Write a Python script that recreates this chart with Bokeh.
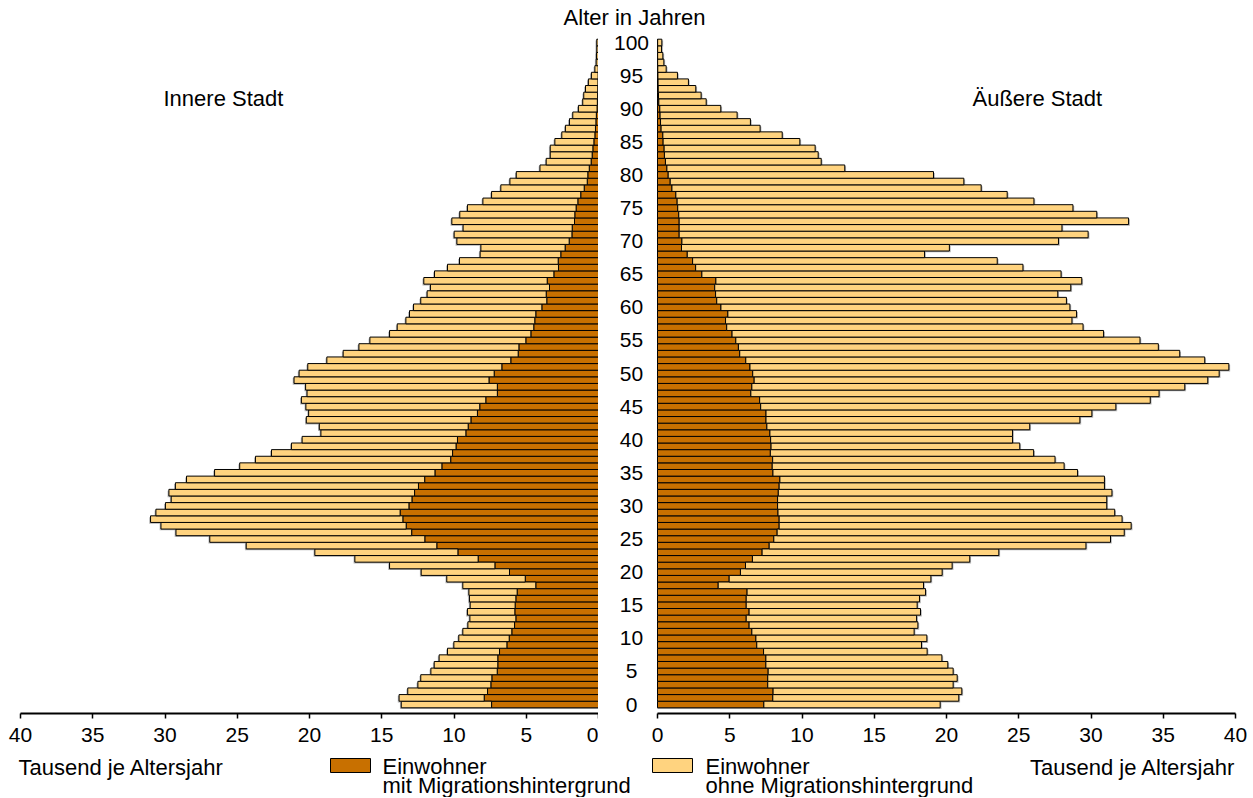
from bokeh.plotting import figure
from bokeh.layouts import column, row
from bokeh.models import Range1d, FixedTicker, ColumnDataSource
from bokeh.core.properties import value
from bokeh.embed import file_html
from bokeh.resources import INLINE

# ---------------- data (thousand persons per year of age) ----------------
ages = list(range(101))

inner_mit = [7.40, 7.91, 7.68, 7.45, 7.38, 7.01, 6.97, 6.97, 6.85, 6.34,
             6.18, 6.00, 5.81, 5.72, 5.79, 5.77, 5.72, 5.63, 4.34, 5.07,
             6.16, 7.17, 8.33, 9.73, 11.19, 12.02, 12.93, 13.31, 13.54, 13.73,
             13.12, 12.91, 12.73, 12.46, 12.03, 11.32, 10.84, 10.23, 10.10, 9.86,
             9.76, 9.18, 9.02, 8.83, 8.38, 8.22, 7.80, 7.00, 7.00, 7.58,
             7.22, 6.69, 6.07, 5.56, 5.51, 5.03, 4.68, 4.48, 4.41, 4.34,
             3.92, 3.58, 3.62, 3.39, 3.55, 3.09, 2.77, 2.79, 2.61, 2.31,
             2.03, 1.84, 1.82, 1.66, 1.64, 1.55, 1.43, 1.23, 0.99, 0.78,
             0.74, 0.64, 0.51, 0.44, 0.39, 0.32, 0.25, 0.21, 0.18, 0.15,
             0.10, 0.08, 0.06, 0.05, 0.04, 0.03, 0.02, 0.01, 0.01, 0.01,
             0.01]
inner_ohne = [6.25, 5.89, 5.52, 5.05, 4.92, 4.59, 4.40, 4.06, 3.60, 3.67,
              3.49, 3.39, 3.23, 3.18, 3.28, 3.11, 3.21, 3.34, 5.05, 5.43,
              6.11, 7.29, 8.53, 9.90, 13.19, 14.88, 16.31, 16.97, 17.46, 16.90,
              16.85, 16.66, 17.00, 16.82, 16.48, 15.25, 13.99, 13.51, 12.53, 11.39,
              10.75, 10.03, 10.30, 11.39, 11.68, 12.03, 12.76, 13.17, 13.27, 13.49,
              13.50, 13.43, 12.73, 12.11, 11.07, 10.79, 9.78, 9.45, 8.92, 8.74,
              8.88, 8.72, 8.24, 8.24, 8.54, 8.26, 7.68, 6.83, 5.58, 5.83,
              7.77, 8.15, 7.55, 8.49, 7.96, 7.52, 6.57, 6.17, 5.77, 5.35,
              4.95, 3.41, 3.11, 2.90, 2.95, 2.70, 2.29, 2.08, 1.83, 1.63,
              1.29, 1.01, 0.96, 0.85, 0.66, 0.46, 0.23, 0.15, 0.13, 0.11,
              0.11]
outer_mit = [7.36, 7.98, 8.00, 7.63, 7.63, 7.66, 7.50, 7.50, 7.34, 6.87,
             6.81, 6.53, 6.34, 6.14, 6.34, 6.14, 6.14, 6.20, 4.20, 4.96,
             5.74, 6.09, 6.57, 7.24, 7.73, 8.05, 8.28, 8.42, 8.42, 8.34,
             8.31, 8.31, 8.36, 8.42, 8.47, 7.99, 7.94, 7.97, 7.81, 7.86,
             7.83, 7.78, 7.57, 7.51, 7.51, 7.14, 7.07, 6.46, 6.53, 6.69,
             6.59, 6.40, 6.11, 5.69, 5.60, 5.42, 5.16, 4.79, 4.71, 4.87,
             4.39, 4.10, 4.02, 3.96, 4.04, 3.07, 2.64, 2.43, 2.06, 1.66,
             1.69, 1.50, 1.50, 1.50, 1.47, 1.40, 1.36, 1.27, 1.00, 0.88,
             0.74, 0.65, 0.55, 0.48, 0.46, 0.39, 0.37, 0.25, 0.21, 0.18,
             0.16, 0.09, 0.07, 0.05, 0.04, 0.03, 0.02, 0.01, 0.01, 0.01,
             0.01]
outer_ohne = [12.20, 12.87, 13.06, 12.83, 13.11, 12.80, 12.59, 12.18, 11.32, 11.40,
              11.83, 11.23, 11.68, 11.79, 11.86, 11.83, 11.99, 12.35, 14.21, 13.96,
              13.96, 14.30, 15.04, 16.38, 21.92, 23.30, 24.02, 24.36, 23.73, 23.30,
              22.78, 22.78, 23.09, 22.51, 22.46, 21.08, 20.20, 19.54, 18.22, 17.21,
              16.74, 16.79, 18.19, 21.72, 22.55, 24.58, 27.03, 28.25, 29.96, 31.39,
              32.28, 33.14, 31.76, 30.45, 29.06, 27.97, 25.71, 24.66, 23.97, 24.13,
              24.15, 24.20, 23.68, 24.64, 25.32, 24.86, 22.65, 21.08, 16.42, 18.54,
              26.06, 28.30, 26.49, 31.10, 28.93, 27.35, 24.69, 22.93, 21.40, 20.32,
              18.36, 12.31, 10.78, 10.64, 10.45, 9.46, 8.26, 6.85, 6.22, 5.33,
              4.22, 3.28, 2.95, 2.60, 2.10, 1.35, 0.58, 0.43, 0.36, 0.27,
              0.29]

age_ticks = list(range(0, 101, 5))
x_ticks = list(range(0, 41, 5))

title_age = "Alter in Jahren"
title_left = "Innere Stadt"
title_right = "Äußere Stadt"
unit_label = "Tausend je Altersjahr"
legend_head = "Einwohner"
legend_mit = "mit Migrationshintergrund"
legend_ohne = "ohne Migrationshintergrund"

# ---------------- styling / geometry ----------------
DARK = "#C87000"
LIGHT = "#FFD37F"
SHADOW = "#808080"
FONT = value("Liberation Sans")
FS = value("22px")
TICK_FS = "21px"

KX = 14.45             # px per thousand
KY = 6.62              # px per year of age
AGE0 = 704             # canvas y of age-0 bar centre
FRAME_TOP, FRAME_BOTTOM = 30, 713
y_lo = -(FRAME_BOTTOM - AGE0) / KY
y_hi = (AGE0 - FRAME_TOP) / KY
GAP = 59 / KX          # gap between the two zero lines, in data units
BOTTOM_BORDER = 40
PH = (FRAME_BOTTOM - FRAME_TOP) + BOTTOM_BORDER
TOP_H = FRAME_TOP
BOT_H = 797 - (TOP_H + PH)


def base(fig):
    fig.grid.visible = False
    fig.outline_line_color = None
    fig.background_fill_color = "white"
    fig.border_fill_color = "white"
    return fig


def style_xaxis(fig):
    ax = fig.xaxis[0]
    ax.ticker = FixedTicker(ticks=x_ticks)
    ax.bounds = (0, 40)
    ax.axis_line_width = 2
    ax.axis_line_color = "black"
    ax.major_tick_in = 0
    ax.major_tick_out = 5
    ax.major_tick_line_width = 1.5
    ax.major_tick_line_color = "black"
    ax.minor_tick_in = 0
    ax.minor_tick_out = 0
    ax.major_label_standoff = 9
    ax.major_label_text_font = "Liberation Sans"
    ax.major_label_text_font_size = TICK_FS
    ax.major_label_text_color = "black"


def pyramid(fig, mit, ohne):
    total = [m + o for m, o in zip(mit, ohne)]
    shadow = ColumnDataSource(dict(age=[a - 1.3 / KY for a in ages],
                                   end=[t + 1.3 / KX for t in total]))
    fig.hbar(y="age", left=0, right="end", height=1.0, source=shadow,
             fill_color=SHADOW, fill_alpha=0.6, line_color=None)
    src = ColumnDataSource(dict(age=ages, mit=mit, ohne=ohne))
    fig.hbar_stack(["mit", "ohne"], y="age", height=1.0, source=src,
                   fill_color=[DARK, LIGHT], line_color="black", line_width=1)


def label(fig, x, y, text, align="left"):
    fig.text(x=[x], y=[y], text=[text], text_font=FONT, text_font_size=FS,
             text_align=align, text_baseline="middle", text_color="black")


# left panel (Innere Stadt)
pl = base(figure(width=598, height=PH, output_backend="svg", toolbar_location=None,
                 x_range=Range1d(40, 0), y_range=Range1d(y_lo, y_hi),
                 y_axis_location=None, min_border_left=20, min_border_right=0,
                 min_border_top=0, min_border_bottom=BOTTOM_BORDER))
pyramid(pl, inner_mit, inner_ohne)
style_xaxis(pl)
label(pl, (598 - 163) / KX, (AGE0 - 98) / KY, title_left)

# right panel (Äußere Stadt) incl. age labels in the gap
pr = base(figure(width=650, height=PH, output_backend="svg", toolbar_location=None,
                 x_range=Range1d(-GAP, 40), y_range=Range1d(y_lo, y_hi),
                 y_axis_location=None, min_border_left=0, min_border_right=13,
                 min_border_top=0, min_border_bottom=BOTTOM_BORDER))
pyramid(pr, outer_mit, outer_ohne)
style_xaxis(pr)
pr.text(x=[-(657 - 631) / KX] * len(age_ticks), y=age_ticks,
        text=[str(a) for a in age_ticks], text_font=FONT, text_font_size=value(TICK_FS),
        text_align="center", text_baseline="middle", text_color="black")
label(pr, (972 - 657) / KX, (AGE0 - 98) / KY, title_right)

# top strip
pt = base(figure(width=1248, height=TOP_H, output_backend="svg", toolbar_location=None,
                 x_range=Range1d(0, 1248), y_range=Range1d(TOP_H, 0),
                 x_axis_location=None, y_axis_location=None, min_border=0))
label(pt, 634, 17, title_age, "center")

# bottom strip: unit labels and legend
y0 = TOP_H + PH
pb = base(figure(width=1248, height=BOT_H, output_backend="svg", toolbar_location=None,
                 x_range=Range1d(0, 1248), y_range=Range1d(y0 + BOT_H, y0),
                 x_axis_location=None, y_axis_location=None, min_border=0))
label(pb, 18, 767, unit_label)
label(pb, 1235, 767, unit_label, "right")
pb.quad(left=[330, 652], right=[370, 692], top=[758, 758], bottom=[772, 772],
        fill_color=[DARK, LIGHT], line_color="black", line_width=1)
for xl, txt in ((382, legend_mit), (705, legend_ohne)):
    label(pb, xl, 766, legend_head)
    label(pb, xl, 785, txt)

layout = column(pt, row(pl, pr), pb)
open("out.html", "w").write(file_html(layout, INLINE))
